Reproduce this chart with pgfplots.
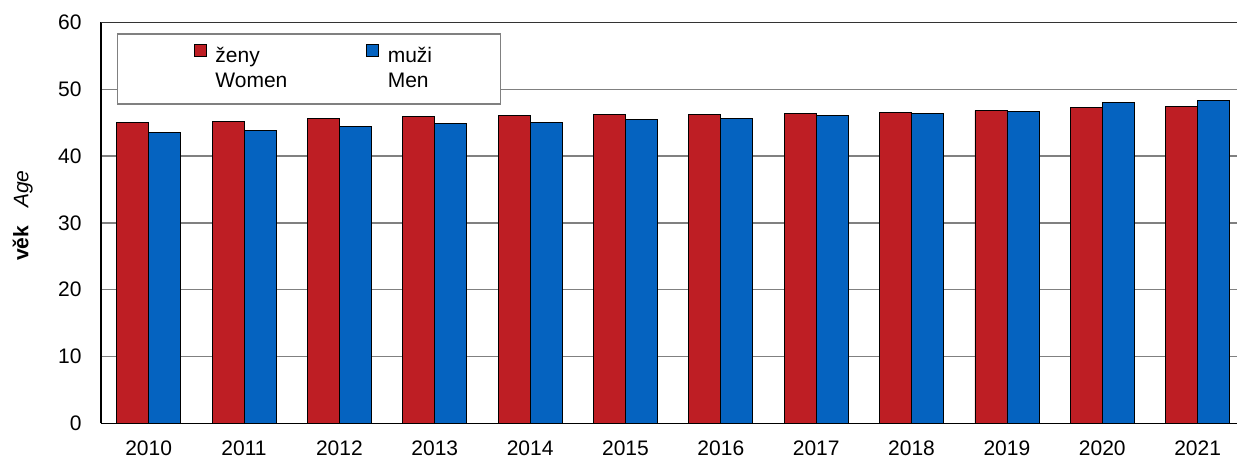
\documentclass[border=0pt]{standalone}
\usepackage{fontspec}
\setmainfont{Liberation Sans}
\usepackage{pgfplots}
\pgfplotsset{compat=1.18}
\definecolor{cred}{RGB}{190,30,36}
\definecolor{cblue}{RGB}{5,99,192}
\definecolor{cgrid}{RGB}{128,128,128}
\pgfplotsset{sqlegend/.style={legend image code/.code={\path (0pt,0pt); \draw[##1,draw=black,line width=0.4pt] (6pt,0pt) rectangle (12pt,6pt);}}}
\begin{document}
\fontsize{10.5}{12.6}\selectfont
\begin{tikzpicture}
\useasboundingbox (0,0) rectangle (618.5pt,229.5pt);
\begin{axis}[
  at={(50.5pt,17.85pt)}, anchor=south west,
  scale only axis, width=568pt, height=200.4pt,
  xmin=-0.5, xmax=11.413,
  ymin=0, ymax=60, ytick={0,10,...,60},
  xtick={0,...,11},
  xticklabels={2010,2011,2012,2013,2014,2015,2016,2017,2018,2019,2020,2021},
  axis x line*=bottom, axis y line*=left,
  axis line style={black, line width=0.6pt},
  major tick length=0pt,
  ymajorgrids, grid style={cgrid, line width=0.7pt},
  extra y ticks={60}, extra y tick labels={},
  extra y tick style={grid style={black!80, line width=0.6pt}},
  /pgf/number format/assume math mode=true,
  tick label style={font=\fontsize{10.5}{12.6}\selectfont},
  yticklabel style={xshift=-6pt},
  xticklabel style={yshift=-5pt},
  every axis y label/.style={at={(axis description cs:-0.069,0.518)}, rotate=90, anchor=center, font=\fontsize{10.5}{12.6}\selectfont},
  ylabel={\textbf{věk}\hspace{9pt}\textit{Age}},
  ybar=0pt, bar width=16pt,
  legend columns=2,
  legend cell align=left,
  legend style={at={(rel axis cs:0.0141,0.973)}, anchor=north west,
    draw=cgrid, line width=0.6pt, font=\fontsize{10.5}{12.6}\selectfont,
    inner xsep=32pt, inner ysep=4.5pt,
    /tikz/every odd column/.append style={column sep=2.5pt},
    /tikz/every even column/.append style={column sep=31.3pt}},
]
\addplot[fill=cred, draw=black, line width=0.4pt, sqlegend] coordinates {
 (0,45.0) (1,45.2) (2,45.7) (3,46.0) (4,46.1) (5,46.3) (6,46.3) (7,46.4) (8,46.55) (9,46.8) (10,47.25) (11,47.4)};
\addlegendentry{ženy}
\addplot[fill=cblue, draw=black, line width=0.4pt, sqlegend] coordinates {
 (0,43.6) (1,43.9) (2,44.5) (3,44.9) (4,45.1) (5,45.5) (6,45.7) (7,46.1) (8,46.35) (9,46.7) (10,48.05) (11,48.35)};
\addlegendentry{muži}
\addlegendimage{empty legend}
\addlegendentry{Women}
\addlegendimage{empty legend}
\addlegendentry{Men}
\end{axis}
\end{tikzpicture}
\end{document}
